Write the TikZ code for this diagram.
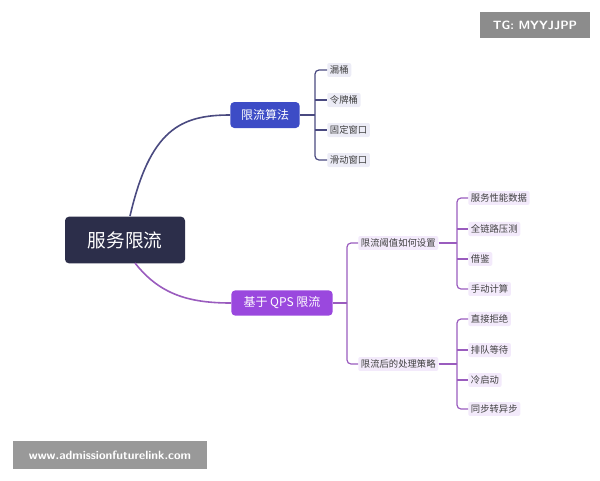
\documentclass[tikz,border=0pt]{standalone}
\usepackage{fontspec}
\setmainfont{Noto Sans CJK SC}
\begin{document}
\begin{tikzpicture}[x=0.75pt,y=-0.75pt,
  leaf/.style={fill=#1,text=black!75,font=\fontsize{7}{9}\selectfont,inner sep=2pt,rounded corners=1.5pt,anchor=west},
  bline/.style={draw=#1,line width=0.9pt},
  wm/.style={fill=#1,text=white,font=\fontsize{9}{11}\selectfont\sffamily\bfseries,inner sep=0pt}]
\useasboundingbox (0,0) rectangle (600,480);
\definecolor{navy}{HTML}{2C2E4A}\definecolor{blu}{HTML}{3D4CC6}\definecolor{pur}{HTML}{9A48DE}
\definecolor{lb}{HTML}{ECECF6}\definecolor{lp}{HTML}{F3EAFB}\definecolor{lineb}{HTML}{4A4A80}\definecolor{linep}{HTML}{9A5CBE}
\node[wm=black!45,minimum width=82.5pt,minimum height=19.5pt] (tg) at (535,25) {TG: MYYJJPP};
\node[wm=black!40,minimum width=146pt,minimum height=21pt] (ww) at (110,455) {www.admissionfuturelink.com};
\node[fill=navy,text=white,rounded corners=3pt,minimum width=90pt,minimum height=35pt,font=\fontsize{14}{17}\selectfont] (root) at (125,240) {服务限流};
\node[fill=blu,text=white,rounded corners=3pt,minimum width=52pt,minimum height=19.5pt,font=\fontsize{9}{11}\selectfont] (a) at (265,115) {限流算法};
\node[fill=pur,text=white,rounded corners=3pt,minimum width=76pt,minimum height=19pt,font=\fontsize{9}{11}\selectfont] (b) at (282,303) {基于 QPS 限流};
\draw[lineb,line width=1.2pt] (130,216) .. controls (150,130) and (180,115) .. (a.west);
\draw[linep,line width=1.2pt] (135,263) .. controls (160,295) and (190,303) .. (b.west);
\foreach \t/\y [count=\i] in {漏桶/70,令牌桶/100,固定窗口/130,滑动窗口/160}
  \node[leaf=lb] (a\i) at (327,\y) {\t};
\draw[bline=lineb] (a.east) -- (315,115);
\draw[bline=lineb,rounded corners=3pt] (a1.west) -| (315,115) |- (a4.west);
\draw[bline=lineb] (315,100) -- (a2.west) (315,130) -- (a3.west);
\node[leaf=lp] (c1) at (358,243) {限流阈值如何设置};
\node[leaf=lp] (c2) at (358,364) {限流后的处理策略};
\draw[bline=linep] (b.east) -- (347,303);
\draw[bline=linep,rounded corners=3pt] (c1.west) -| (347,303) |- (c2.west);
\foreach \t/\y [count=\i] in {服务性能数据/198,全链路压测/229,借鉴/259,手动计算/289}
  \node[leaf=lp] (d\i) at (468,\y) {\t};
\draw[bline=linep] (c1.east) -- (457,243);
\draw[bline=linep,rounded corners=3pt] (d1.west) -| (457,243) |- (d4.west);
\draw[bline=linep] (457,229) -- (d2.west) (457,259) -- (d3.west);
\foreach \t/\y [count=\i] in {直接拒绝/319,排队等待/350,冷启动/380,同步转异步/409}
  \node[leaf=lp] (e\i) at (468,\y) {\t};
\draw[bline=linep] (c2.east) -- (457,364);
\draw[bline=linep,rounded corners=3pt] (e1.west) -| (457,364) |- (e4.west);
\draw[bline=linep] (457,350) -- (e2.west) (457,380) -- (e3.west);
\end{tikzpicture}
\end{document}
